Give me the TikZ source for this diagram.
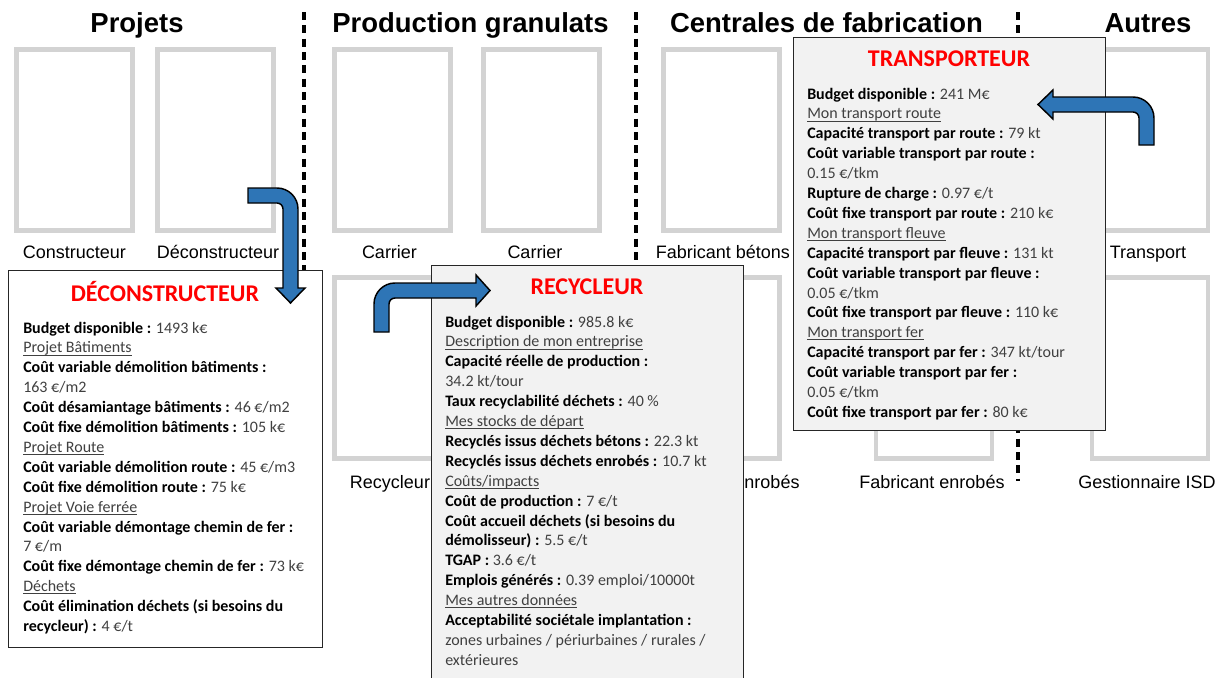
\documentclass[tikz,border=0pt]{standalone}
\usepackage{fontspec}
\setmainfont{Carlito}
\newfontfamily\arialfont{Liberation Sans}
\definecolor{boxgray}{HTML}{D3D3D3}
\definecolor{infogray}{HTML}{F2F2F2}
\definecolor{valgray}{HTML}{404040}
\definecolor{arrowblue}{HTML}{2E75B6}
\newcommand{\val}[1]{\textcolor{valgray}{#1}}
\newcommand{\rub}[1]{\textcolor{valgray}{\underline{\smash{#1}}}}
\tikzset{
  actorbox/.style={draw=boxgray, line width=3.4pt, fill=white, minimum width=87pt, minimum height=136pt, inner sep=0pt},
  actorlabel/.style={font=\arialfont\fontsize{13.5pt}{16pt}\selectfont, anchor=base},
  coltitle/.style={font=\arialfont\bfseries\fontsize{20.6pt}{24pt}\selectfont, anchor=base},
  infobox/.style={draw=black!85, line width=0.9pt, anchor=north west, inner sep=0pt},
  infotitle/.style={font=\bfseries\fontsize{18pt}{20pt}\selectfont, text=red, anchor=base},
  infoline/.style={font=\fontsize{12pt}{15pt}\selectfont, anchor=base west, inner sep=0pt},
  bentarrow/.style={fill=arrowblue, draw=black, line width=1.1pt, line join=miter},
  sepline/.style={black, line width=2.6pt, dash pattern=on 6pt off 4pt}
}
\begin{document}
\begin{tikzpicture}[x=0.75pt, y=-0.75pt]
  \useasboundingbox (0,0) rectangle (1222,678);
  \clip (0,0) rectangle (1222,678);
  \foreach \x in {304,636,1018} {
      \draw[sepline] (\x,12) -- (\x,481);
  }
  \foreach \n/\x in {cons/74.4,deco/215.3,carA/392.3,carB/541.5,fabA/721.5,fabB/934,autre/1150} {
      \foreach \r/\y in {top/140,bot/368} {
          \node[actorbox] (\r-\n) at (\x,\y) {};
      }
  }
  \foreach \n/\x/\y/\t in {cons/74.4/258/Constructeur, deco/218/258/Déconstructeur, carA/389.5/258/Carrier,
      carB/535/258/Carrier, fabA/722.8/258/Fabricant bétons, autre/1148/258/Transport,
      carA/390/488/Recycleur, fabA/727/488/Fabricant enrobés, fabB/932/488/Fabricant enrobés,
      autre/1147/488/Gestionnaire ISD} {
      \node[actorlabel] (lab-\n-\y) at (\x,\y) {\t};
  }
  \node[coltitle] (t-proj) at (137,32) {Projets};
  \node[coltitle] (t-prod) at (470.5,32) {Production granulats};
  \node[coltitle] (t-cent) at (826.5,32) {Centrales de fabrication};
  \node[coltitle] (t-autr) at (1148,32) {Autres};

  \node[infobox, fill=white, minimum width=235.5pt, minimum height=282.75pt] (i-deco) at (8,270) {};
  \node[infotitle] (h-deco) at (165,301) {DÉCONSTRUCTEUR};
  \foreach \t [count=\i from 0] in {
      {\textbf{Budget disponible :} \val{1493 k€}},
      {\rub{Projet Bâtiments}},
      {\textbf{Coût variable démolition bâtiments :}},
      {\val{163 €/m2}},
      {\textbf{Coût désamiantage bâtiments :} \val{46 €/m2}},
      {\textbf{Coût fixe démolition bâtiments :} \val{105 k€}},
      {\rub{Projet Route}},
      {\textbf{Coût variable démolition route :} \val{45 €/m3}},
      {\textbf{Coût fixe démolition route :} \val{75 k€}},
      {\rub{Projet Voie ferrée}},
      {\textbf{Coût variable démontage chemin de fer :}},
      {\val{7 €/m}},
      {\textbf{Coût fixe démontage chemin de fer :} \val{73 k€}},
      {\rub{Déchets}},
      {\textbf{Coût élimination déchets (si besoins du}},
      {\textbf{recycleur) :} \val{4 €/t}}} {
      \node[infoline] (deco-\i) at (23,{333+19.9*\i}) {\t};
  }

  \node[infobox, fill=infogray, minimum width=234pt, minimum height=318.75pt] (i-recy) at (431,265) {};
  \node[infotitle] (h-recy) at (587,294) {RECYCLEUR};
  \foreach \t [count=\i from 0] in {
      {\textbf{Budget disponible :} \val{985.8 k€}},
      {\rub{Description de mon entreprise}},
      {\textbf{Capacité réelle de production :}},
      {\val{34.2 kt/tour}},
      {\textbf{Taux recyclabilité déchets :} \val{40 \%}},
      {\rub{Mes stocks de départ}},
      {\textbf{Recyclés issus déchets bétons :} \val{22.3 kt}},
      {\textbf{Recyclés issus déchets enrobés :} \val{10.7 kt}},
      {\rub{Coûts/impacts}},
      {\textbf{Coût de production :} \val{7 €/t}},
      {\textbf{Coût accueil déchets (si besoins du}},
      {\textbf{démolisseur) :} \val{5.5 €/t}},
      {\textbf{TGAP :} \val{3.6 €/t}},
      {\textbf{Emplois générés :} \val{0.39 emploi/10000t}},
      {\rub{Mes autres données}},
      {\textbf{Acceptabilité sociétale implantation :}},
      {\val{zones urbaines / périurbaines / rurales /}},
      {\val{extérieures}}} {
      \node[infoline] (recy-\i) at (445,{327+19.9*\i}) {\t};
  }

  \node[infobox, fill=infogray, minimum width=234pt, minimum height=294.75pt] (i-trans) at (793,37) {};
  \node[infotitle] (h-trans) at (949,66) {TRANSPORTEUR};
  \foreach \t [count=\i from 0] in {
      {\textbf{Budget disponible :} \val{241 M€}},
      {\rub{Mon transport route}},
      {\textbf{Capacité transport par route :} \val{79 kt}},
      {\textbf{Coût variable transport par route :}},
      {\val{0.15 €/tkm}},
      {\textbf{Rupture de charge :} \val{0.97 €/t}},
      {\textbf{Coût fixe transport par route :} \val{210 k€}},
      {\rub{Mon transport fleuve}},
      {\textbf{Capacité transport par fleuve :} \val{131 kt}},
      {\textbf{Coût variable transport par fleuve :}},
      {\val{0.05 €/tkm}},
      {\textbf{Coût fixe transport par fleuve :} \val{110 k€}},
      {\rub{Mon transport fer}},
      {\textbf{Capacité transport par fer :} \val{347 kt/tour}},
      {\textbf{Coût variable transport par fer :}},
      {\val{0.05 €/tkm}},
      {\textbf{Coût fixe transport par fer :} \val{80 k€}}} {
      \node[infoline] (trans-\i) at (807,{99+19.9*\i}) {\t};
  }

  \draw[bentarrow] (248,188) -- (277,188) .. controls (288.6,188) and (298,197.4) .. (298,209)
      -- (298,288) -- (305,288) -- (290.5,303) -- (276,288) -- (283,288) -- (283,209)
      .. controls (283,205.7) and (280.3,203) .. (277,203) -- (248,203) -- cycle;
  \draw[bentarrow] (374,332) -- (374,304) .. controls (374,292.4) and (383.4,283) .. (395,283)
      -- (476,283) -- (476,275) -- (490,290.5) -- (476,306) -- (476,298) -- (395,298)
      .. controls (391.7,298) and (389,300.7) .. (389,304) -- (389,332) -- cycle;
  \draw[bentarrow] (1154,145) -- (1154,118) .. controls (1154,106.4) and (1144.6,97) .. (1133,97)
      -- (1053,97) -- (1053,90) -- (1038,104.5) -- (1053,119) -- (1053,112) -- (1133,112)
      .. controls (1136.3,112) and (1139,114.7) .. (1139,118) -- (1139,145) -- cycle;
\end{tikzpicture}
\end{document}
